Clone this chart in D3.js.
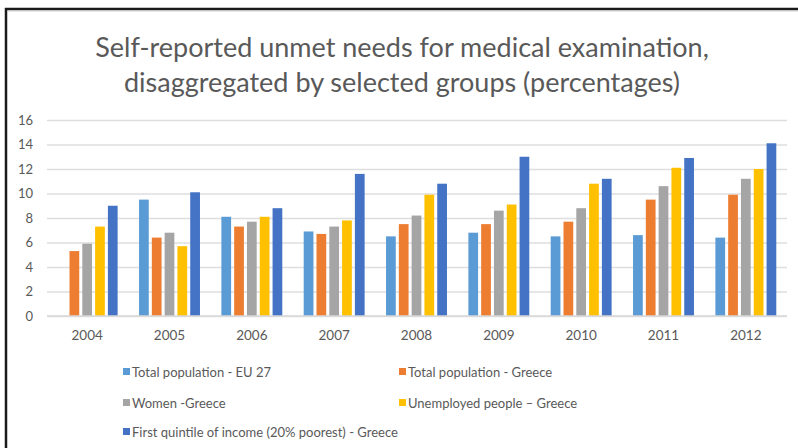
<!DOCTYPE html>
<html><head><meta charset="utf-8">
<script src="https://cdn.jsdelivr.net/npm/d3@7"></script>
<style>body{margin:0;background:#fff}svg{display:block}</style>
</head><body>
<svg id="c" width="798" height="448"></svg>
<script>
const years = ["2004","2005","2006","2007","2008","2009","2010","2011","2012"];
const seriesNames = ["Total population - EU 27","Total population - Greece","Women -Greece","Unemployed people \u2013 Greece","First quintile of income (20% poorest) - Greece"];
const euTotal    = [null, 9.5, 8.1, 6.9, 6.5, 6.8, 6.5, 6.6, 6.4];
const grTotal    = [5.3, 6.4, 7.3, 6.7, 7.5, 7.5, 7.7, 9.5, 9.9];
const grWomen    = [5.9, 6.8, 7.7, 7.3, 8.2, 8.6, 8.8, 10.6, 11.2];
const grUnemp    = [7.3, 5.7, 8.1, 7.8, 9.9, 9.1, 10.8, 12.1, 12.0];
const grPoorest  = [9.0, 10.1, 8.8, 11.6, 10.8, 13.0, 11.2, 12.9, 14.1];
const yTicks = [0,2,4,6,8,10,12,14,16];
const colors = ["#5B9BD5","#ED7D31","#A5A5A5","#FFC000","#4472C4"];
const titleLines = ["Self-reported unmet needs for medical examination,","disaggregated by selected groups (percentages)"];

const series = [euTotal, grTotal, grWomen, grUnemp, grPoorest];
const svg = d3.select("#c");
const font = "Lato, 'Open Sans', sans-serif";

// frame
svg.append("line").attr("x1",6).attr("x2",6).attr("y1",8).attr("y2",448).attr("stroke","#1a1a1a").attr("stroke-width",2.5);
svg.append("line").attr("x1",5).attr("x2",798).attr("y1",9).attr("y2",9).attr("stroke","#1a1a1a").attr("stroke-width",2.5);
svg.append("line").attr("x1",8).attr("x2",798).attr("y1",11.5).attr("y2",11.5).attr("stroke","#e6e6e6").attr("stroke-width",1);

const x0 = d3.scaleBand().domain(years).range([46, 787]).paddingInner(0.26).paddingOuter(0.13);
const x1 = d3.scaleBand().domain(d3.range(5)).range([0, x0.bandwidth()]).paddingInner(0.24);
const y = d3.scaleLinear().domain([0,16]).range([316,120]);

// title
svg.append("g").selectAll("text").data(titleLines).join("text")
  .attr("x",402).attr("y",(d,i)=>57+i*35).attr("text-anchor","middle")
  .attr("font-family",font).attr("font-size",27).attr("fill","#595959").text(d=>d);

// grid
const yAxis = d3.axisLeft(y).tickValues(yTicks).tickSize(-(787-47)).tickPadding(14);
const gy = svg.append("g").attr("transform","translate(47,0)").call(yAxis);
gy.select(".domain").remove();
gy.selectAll(".tick line").attr("stroke","#dedede").attr("stroke-width",1.5);
gy.selectAll(".tick text").attr("font-family",font).attr("font-size",13).attr("fill","#595959");

// bars
const g = svg.append("g");
years.forEach((yr,i)=>{
  series.forEach((s,j)=>{
    if (s[i]==null) return;
    g.append("rect").attr("x",x0(yr)+x1(j)).attr("width",x1.bandwidth())
      .attr("y",y(s[i])).attr("height",y(0)-y(s[i])).attr("fill",colors[j]);
  });
});

// x axis
const xAxis = d3.axisBottom(x0).tickSize(0).tickPadding(14);
const gx = svg.append("g").attr("transform","translate(0,316)").call(xAxis);
gx.select(".domain").attr("stroke","#d9d9d9").attr("stroke-width",1.5).attr("d","M47,0H787");
gx.selectAll(".tick text").attr("font-family",font).attr("font-size",13.5).attr("fill","#595959");

// legend
const legPos = [[123,372],[399,372],[123,403],[399,403],[123,432]];
const lg = svg.append("g").selectAll("g").data(seriesNames).join("g")
  .attr("transform",(d,i)=>`translate(${legPos[i][0]},${legPos[i][1]})`);
lg.append("rect").attr("x",0).attr("y",-4).attr("width",7).attr("height",7).attr("fill",(d,i)=>colors[i]);
lg.append("text").attr("x",9).attr("y",0).attr("dy","0.35em").attr("font-family",font)
  .attr("font-size",13).attr("fill","#595959").text(d=>d);
</script>
</body></html>
